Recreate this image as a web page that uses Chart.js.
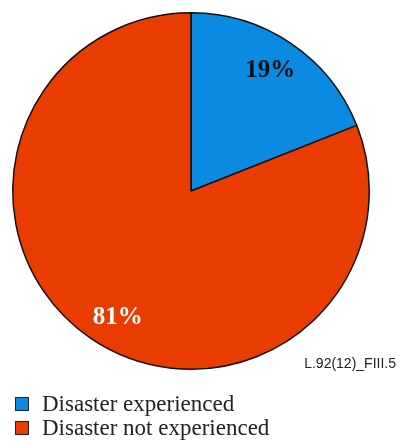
<!DOCTYPE html>
<html>
<head>
<meta charset="utf-8">
<script src="https://cdn.jsdelivr.net/npm/chart.js@4/dist/chart.umd.min.js"></script>
<style>
  html, body { margin: 0; padding: 0; background: #fff; }
  #wrap { position: relative; width: 404px; height: 441px; overflow: hidden; }
  #pie { position: absolute; left: 0; top: 0; }
  #note {
    position: absolute; right: 8px; top: 356px;
    font: 14px "Liberation Sans", Arial, sans-serif; line-height: 14px; color: #222;
  }
  #legend {
    position: absolute; left: 15px; top: 392px;
    font: 23px "Liberation Serif", "Times New Roman", serif; line-height: 24px; color: #222;
  }
  #legend .box {
    display: inline-block; width: 12px; height: 12px; border: 1px solid #222;
    margin-right: 13px; vertical-align: baseline;
  }
</style>
</head>
<body>
<div id="wrap">
  <canvas id="pie" width="404" height="441"></canvas>
  <div id="note">L.92(12)_FIII.5</div>
  <div id="legend"></div>
</div>
<script>
const categories = ['Disaster experienced', 'Disaster not experienced'];
const shares = [19, 81];
const sliceColors = ['#0a8ae0', '#e83c00'];
const labelColors = ['#111', '#fff'];

// legend under the pie
const legend = document.getElementById('legend');
categories.forEach(function (name, i) {
    const row = document.createElement('div');
    const box = document.createElement('span');
    box.className = 'box';
    box.style.background = sliceColors[i];
    row.appendChild(box);
    row.appendChild(document.createTextNode(name));
    legend.appendChild(row);
});

// percent labels inside the slices
const percentLabels = {
    id: 'percentLabels',
    afterDatasetsDraw(chart) {
        const ctx = chart.ctx;
        const arcs = chart.getDatasetMeta(0).data;
        ctx.save();
        ctx.font = 'bold 25px "Liberation Serif", "Times New Roman", serif';
        ctx.textAlign = 'center';
        ctx.textBaseline = 'middle';
        arcs.forEach(function (arc, i) {
            const mid = (arc.startAngle + arc.endAngle) / 2 - 0.045;
            const r = arc.outerRadius * 0.815;
            ctx.fillStyle = labelColors[i];
            ctx.fillText(shares[i] + '%', arc.x + Math.cos(mid) * r + 3, arc.y + Math.sin(mid) * r + 3);
        });
        ctx.restore();
    }
};

new Chart(document.getElementById('pie').getContext('2d'), {
    type: 'pie',
    data: {
        labels: categories,
        datasets: [{
            data: shares,
            backgroundColor: sliceColors,
            borderColor: '#111',
            borderWidth: 1.5
        }]
    },
    options: {
        responsive: false,
        animation: false,
        layout: { padding: { left: 12, top: 12, right: 34, bottom: 71 } },
        plugins: {
            legend: { display: false },
            tooltip: { enabled: false }
        }
    },
    plugins: [percentLabels]
});
</script>
</body>
</html>
